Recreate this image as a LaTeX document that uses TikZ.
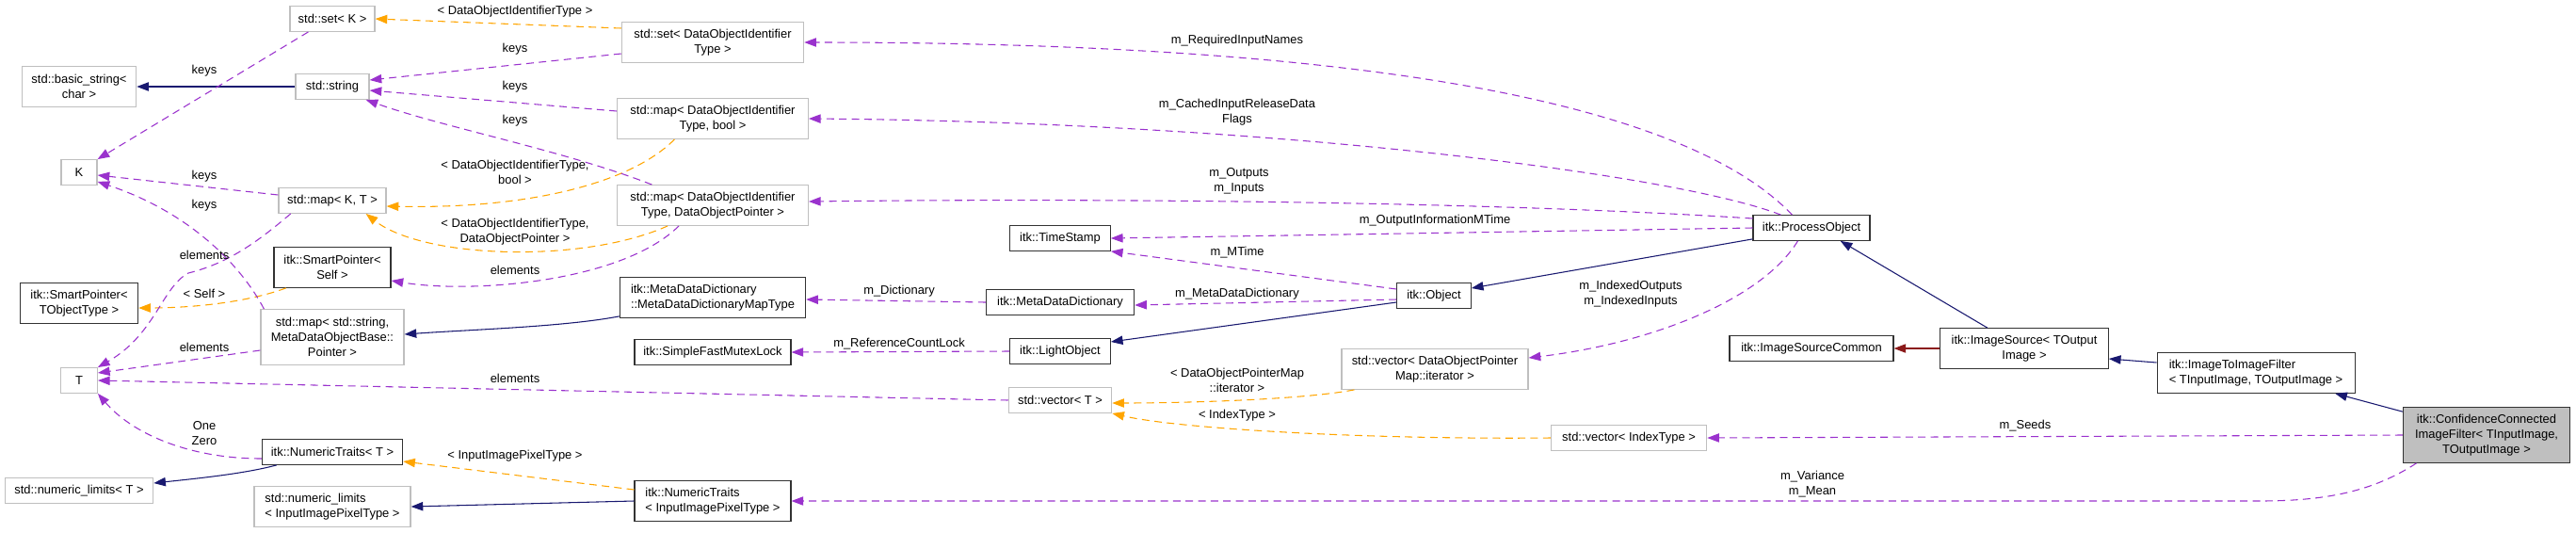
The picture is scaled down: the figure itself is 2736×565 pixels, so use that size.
\documentclass[tikz,border=0pt]{standalone}
\usepackage{fontspec}
\setmainfont{Liberation Sans}
\usetikzlibrary{arrows.meta}
\definecolor{usecol}{HTML}{9A32CD}
\definecolor{tplcol}{HTML}{FFA500}
\definecolor{inhcol}{HTML}{191970}
\definecolor{privcol}{HTML}{8B1A1A}
\definecolor{boxgray}{HTML}{BFBFBF}
\tikzset{
  every node/.style={font=\fontsize{9.7}{12}\selectfont, inner sep=1.5pt},
  gbox/.style={draw=boxgray, line width=0.9pt, fill=white, align=center, minimum height=20pt},
  bbox/.style={draw=black!80, line width=0.8pt, fill=white, align=center, minimum height=20pt},
  hbox/.style={bbox, fill=boxgray},
  lbl/.style={align=center},
  usage/.style={draw=usecol, line width=0.8pt, dash pattern=on 6pt off 4pt, -{Triangle[length=9.5pt,width=7pt]}},
  tmpl/.style={draw=tplcol, line width=0.8pt, dash pattern=on 6pt off 4pt, -{Triangle[length=9.5pt,width=7pt]}},
  inh/.style={draw=inhcol, line width=0.8pt, -{Triangle[length=9.5pt,width=7pt]}},
  priv/.style={draw=privcol, line width=0.8pt, -{Triangle[length=9.5pt,width=7pt]}}
}
\begin{document}
\begin{tikzpicture}[x=0.75pt, y=-0.75pt]
  \useasboundingbox (0,0) rectangle (2736,565);

  \node[gbox, minimum width=67.5pt] (setK) at (353,20) {std::set< K >};
  \node[gbox, minimum width=145pt, minimum height=32pt] (setDOIT) at (757,45) {std::set< DataObjectIdentifier\\Type >};
  \node[gbox, minimum width=91pt, minimum height=32pt] (basicstr) at (84,92) {std::basic\_string<\\char >};
  \node[gbox, minimum width=58.5pt] (stdstr) at (353,92) {std::string};
  \node[gbox, minimum width=152pt, minimum height=32pt] (mapbool) at (757,126) {std::map< DataObjectIdentifier\\Type, bool >};
  \node[gbox, minimum width=28.5pt] (K) at (84,183) {K};
  \node[gbox, minimum width=85.5pt] (mapKT) at (353,213) {std::map< K, T >};
  \node[gbox, minimum width=152pt, minimum height=32pt] (mapDOP) at (757,218) {std::map< DataObjectIdentifier\\Type, DataObjectPointer >};
  \node[bbox, minimum width=80pt] (timestamp) at (1126,253) {itk::TimeStamp};
  \node[bbox, minimum width=93pt] (procobj) at (1924,242) {itk::ProcessObject};
  \node[bbox, minimum width=93pt, minimum height=32pt] (spself) at (353,284) {itk::SmartPointer<\\Self >};
  \node[bbox, minimum width=94pt, minimum height=32pt] (sptot) at (84,322) {itk::SmartPointer<\\TObjectType >};
  \node[gbox, minimum width=114pt, minimum height=44pt] (mapMDOB) at (353,358) {std::map< std::string,\\MetaDataObjectBase::\\Pointer >};
  \node[bbox, minimum width=148pt, minimum height=32pt, align=left] (mddmap) at (757,316) {itk::MetaDataDictionary\\::MetaDataDictionaryMapType};
  \node[bbox, minimum width=118pt] (mdd) at (1126,321) {itk::MetaDataDictionary};
  \node[bbox, minimum width=59pt] (object) at (1523,314) {itk::Object};
  \node[bbox, minimum width=124.5pt] (mutex) at (757,374) {itk::SimpleFastMutexLock};
  \node[bbox, minimum width=80pt] (lightobj) at (1126,373) {itk::LightObject};
  \node[gbox, minimum width=29pt] (T) at (84,404) {T};
  \node[gbox, minimum width=82pt] (vecT) at (1126,425) {std::vector< T >};
  \node[gbox, minimum width=148.5pt, minimum height=32pt] (vecDOPM) at (1524,392) {std::vector< DataObjectPointer\\Map::iterator >};
  \node[bbox, minimum width=130.5pt] (isc) at (1924,370) {itk::ImageSourceCommon};
  \node[bbox, minimum width=134pt, minimum height=32pt] (imgsrc) at (2150,370) {itk::ImageSource< TOutput\\Image >};
  \node[bbox, minimum width=157.5pt, minimum height=32pt, align=left] (i2i) at (2396,396) {itk::ImageToImageFilter\\< TInputImage, TOutputImage >};
  \node[hbox, minimum width=133pt, minimum height=44pt] (ccif) at (2641,462) {itk::ConfidenceConnected\\ImageFilter< TInputImage,\\TOutputImage >};
  \node[gbox, minimum width=124pt] (vecidx) at (1730,465) {std::vector< IndexType >};
  \node[bbox, minimum width=112pt] (ntT) at (353,480) {itk::NumericTraits< T >};
  \node[gbox, minimum width=118pt] (nlT) at (84,521) {std::numeric\_limits< T >};
  \node[gbox, minimum width=124.5pt, minimum height=32pt, align=left] (nlIPT) at (353,538) {std::numeric\_limits\\< InputImagePixelType >};
  \node[bbox, minimum width=124.5pt, minimum height=32pt, align=left] (ntIPT) at (757,532) {itk::NumericTraits\\< InputImagePixelType >};

  \draw[inh] (stdstr.west) -- (basicstr.east);
  \draw[inh] ([yshift=1.5pt]mddmap.south west) .. controls (600,347) and (500,350) .. ([yshift=2.25pt]mapMDOB.east);
  \draw[inh] ([yshift=-5.25pt]object.west) -- ([yshift=7.5pt]lightobj.east);
  \draw[inh] ([yshift=1.5pt]procobj.south west) -- ([yshift=6pt]object.east);
  \draw[inh] ([xshift=38pt]imgsrc.north west) -- ([xshift=23pt]procobj.south);
  \draw[inh] ([yshift=8.25pt]i2i.west) -- ([yshift=-8.25pt]imgsrc.east);
  \draw[inh] ([yshift=-3.75pt]ccif.north west) -- ([xshift=-16pt]i2i.south east);
  \draw[inh] ([xshift=12pt]ntT.south west) .. controls (260,503) and (210,508) .. ([yshift=6pt]nlT.east);
  \draw[inh] (ntIPT.west) -- (nlIPT.east);
  \draw[priv] (imgsrc.west) -- (isc.east);

  \draw[tmpl] ([yshift=11.25pt]setDOIT.west) -- (setK.east);
  \draw[tmpl] ([xshift=46pt]mapbool.south west) .. controls (670,195) and (560,222) .. ([yshift=-4.5pt]mapKT.east);
  \draw[tmpl] ([xshift=40.5pt]mapDOP.south west) .. controls (620,280) and (450,275) .. ([xshift=-16.5pt]mapKT.south east);
  \draw[tmpl] ([xshift=10pt]spself.south west) .. controls (260,322) and (200,327) .. ([yshift=-3.75pt]sptot.east);
  \draw[tmpl] ([xshift=10.5pt]vecDOPM.south west) .. controls (1380,425) and (1250,428) .. ([yshift=-2.25pt]vecT.east);
  \draw[tmpl] (vecidx.west) .. controls (1450,467) and (1250,455) .. (vecT.south east);
  \draw[tmpl] ([yshift=9pt]ntIPT.west) -- ([yshift=-7.5pt]ntT.east);

  \draw[usage] ([xshift=15pt]setK.south west) -- (K.north east);
  \draw[usage] ([yshift=-9pt]setDOIT.west) -- ([yshift=5.25pt]stdstr.east);
  \draw[usage] ([yshift=6pt]mapbool.west) -- ([yshift=-3pt]stdstr.east);
  \draw[usage] ([xshift=28pt]mapDOP.north west) .. controls (600,160) and (470,135) .. ([xshift=-3pt]stdstr.south east);
  \draw[usage] ([yshift=4.5pt]mapKT.west) -- ([yshift=-2.25pt]K.east);
  \draw[usage] ([xshift=3pt]mapMDOB.north west) .. controls (255,280) and (200,225) .. ([yshift=3pt]K.south east);
  \draw[usage] ([xshift=10pt]mapKT.south west) .. controls (270,260) and (240,280) .. (200,290) .. controls (172,305) and (165,355) .. (T.north east);
  \draw[usage] ([yshift=-10.5pt]mapMDOB.west) -- ([yshift=6pt]T.east);
  \draw[usage] (vecT.west) -- (T.east);
  \draw[usage] ([yshift=-5.25pt]ntT.west) .. controls (200,487) and (140,460) .. (T.south east);
  \draw[usage] ([xshift=49.5pt]mapDOP.south west) .. controls (660,300) and (500,312) .. ([yshift=-10.5pt]spself.east);
  \draw[usage] (mdd.west) -- ([yshift=-1.5pt]mddmap.east);
  \draw[usage] (lightobj.west) -- (mutex.east);
  \draw[usage] ([yshift=-3pt]object.west) -- ([yshift=-2.25pt]mdd.east);
  \draw[usage] ([yshift=5.25pt]object.west) -- (timestamp.south east);
  \draw[usage] (procobj.west) -- (timestamp.east);
  \draw[usage] ([xshift=31.5pt]procobj.north west) .. controls (1800,120) and (1500,45) .. (setDOIT.east);
  \draw[usage] ([xshift=22.5pt]procobj.north west) .. controls (1780,185) and (1350,130) .. (mapbool.east);
  \draw[usage] ([yshift=7.5pt]procobj.west) .. controls (1600,215) and (1200,210) .. ([yshift=3pt]mapDOP.east);
  \draw[usage] ([xshift=36pt]procobj.south west) .. controls (1870,320) and (1750,365) .. ([yshift=9pt]vecDOPM.east);
  \draw[usage] (ccif.west) -- (vecidx.east);
  \draw[usage] ([xshift=11pt]ccif.south west) .. controls (2520,522) and (2470,532) .. (2400,532) -- (ntIPT.east);

  \node[lbl] (lset) at (547,12) {< DataObjectIdentifierType >};
  \node[lbl] (lkeysa) at (217,75) {keys};
  \node[lbl] (lkeysb) at (547,52) {keys};
  \node[lbl] (lkeysc) at (547,92) {keys};
  \node[lbl] (lkeysd) at (547,128) {keys};
  \node[lbl] (lkeyse) at (217,187) {keys};
  \node[lbl] (lkeysf) at (217,218) {keys};
  \node[lbl] (lbool) at (547,183) {< DataObjectIdentifierType,\\bool >};
  \node[lbl] (ldop) at (547,246) {< DataObjectIdentifierType,\\DataObjectPointer >};
  \node[lbl] (lelema) at (217,271) {elements};
  \node[lbl] (lelemb) at (547,287) {elements};
  \node[lbl] (lself) at (217,312) {< Self >};
  \node[lbl] (lelemc) at (217,369) {elements};
  \node[lbl] (lelemd) at (547,402) {elements};
  \node[lbl] (lonezero) at (217,460) {One\\Zero};
  \node[lbl] (lipt) at (547,484) {< InputImagePixelType >};
  \node[lbl] (lreq) at (1314,43) {m\_RequiredInputNames};
  \node[lbl] (lcached) at (1314,119) {m\_CachedInputReleaseData\\Flags};
  \node[lbl] (loutin) at (1316,192) {m\_Outputs\\m\_Inputs};
  \node[lbl] (lomtime) at (1524,234) {m\_OutputInformationMTime};
  \node[lbl] (lmtime) at (1314,268) {m\_MTime};
  \node[lbl] (ldict) at (955,309) {m\_Dictionary};
  \node[lbl] (lmdd) at (1314,312) {m\_MetaDataDictionary};
  \node[lbl] (lrcl) at (955,365) {m\_ReferenceCountLock};
  \node[lbl] (ldopmi) at (1314,404) {< DataObjectPointerMap\\::iterator >};
  \node[lbl] (lidx) at (1314,441) {< IndexType >};
  \node[lbl] (lindexed) at (1732,312) {m\_IndexedOutputs\\m\_IndexedInputs};
  \node[lbl] (lseeds) at (2151,452) {m\_Seeds};
  \node[lbl] (lvarmean) at (1925,514) {m\_Variance\\m\_Mean};
\end{tikzpicture}
\end{document}
